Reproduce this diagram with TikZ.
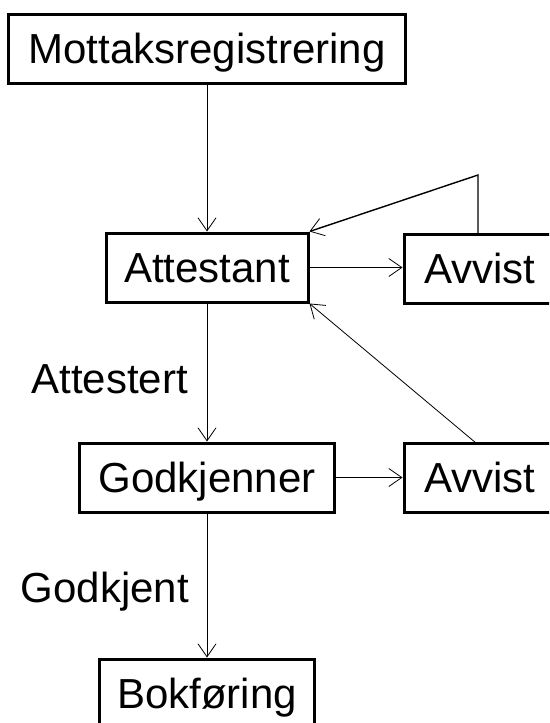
\documentclass[tikz,border=0pt]{standalone}
\usepackage{fontspec}
\setmainfont{Liberation Sans}
\usetikzlibrary{arrows.meta}
\tikzset{
  box/.style={draw, line width=3pt, inner sep=0pt, minimum height=69pt,
    text height=30pt, text depth=0pt, font=\fontsize{42}{50}\selectfont},
  lbl/.style={inner sep=0pt, font=\fontsize{42}{50}\selectfont},
  conn/.style={line width=0.8pt, -{Straight Barb[length=13pt,width=18pt,line width=0.8pt]}}
}
\begin{document}
\begin{tikzpicture}[x=1pt,y=-1pt]
\useasboundingbox (0,0) rectangle (549,723);
\clip (0,0) rectangle (549,723);
\node[box, minimum width=397pt] (m) at (207,48.5) {Mottaksregistrering};
\node[box, minimum width=202pt] (a) at (207,267.5) {Attestant};
\node[box, minimum width=152pt] (v1) at (480,268.5) {Avvist};
\node[box, minimum width=255pt] (g) at (207,477.5) {Godkjenner};
\node[box, minimum width=152pt] (v2) at (480,477.5) {Avvist};
\node[box, minimum width=215pt] (b) at (207,693.5) {Bokføring};
\node[lbl, anchor=base east] (l1) at (188,393) {Attestert};
\node[lbl, anchor=base east] (l2) at (189,602) {Godkjent};
\coordinate (k1) at (478,175);
\coordinate (s1) at (478,234);
\coordinate (s2) at (476,443);
\draw[conn] (m.south) -- (a.north);
\draw[conn] (a.east) -- (a.east -| v1.west);
\draw[conn, line width=1.4pt] (s1) -- (k1) -- (a.north east);
\draw[conn] (a.south) -- (g.north);
\draw[conn] (g.east) -- (v2.west);
\draw[conn] (s2) -- (a.south east);
\draw[conn] (g.south) -- (b.north);
\end{tikzpicture}
\end{document}
